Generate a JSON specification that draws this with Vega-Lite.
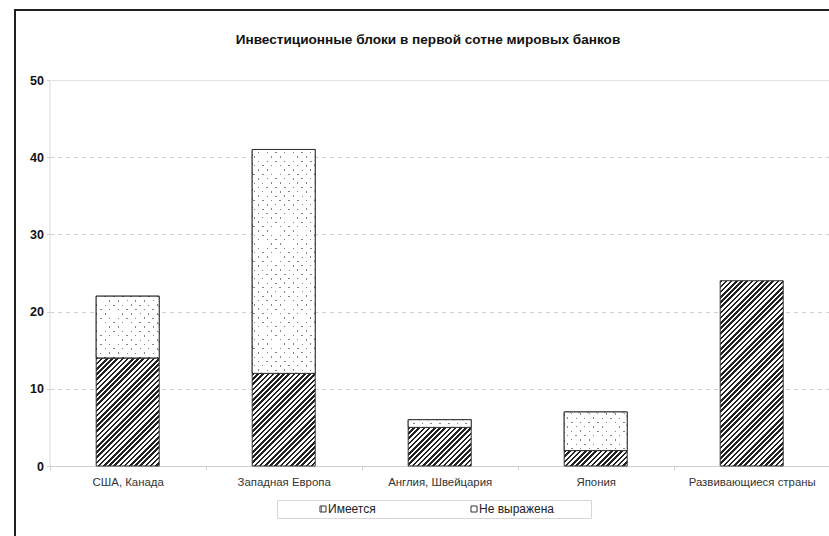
{
  "$schema": "https://vega.github.io/schema/vega-lite/v6.json",
  "width": 830,
  "height": 546,
  "autosize": {"type": "none"},
  "padding": {"left": 15, "top": 10, "right": -16, "bottom": -20},
  "background": "#ffffff",
  "title": {
    "text": "Инвестиционные блоки в первой сотне мировых банков",
    "anchor": "middle",
    "frame": "group",
    "offset": -48,
    "baseline": "alphabetic",
    "dx": -2,
    "font": "Liberation Sans",
    "fontSize": 13.6,
    "fontWeight": "bold",
    "color": "#111111"
  },
  "params": [
    {"name": "hatchStops", "value": [
      {"offset":0,"color":"#222"},{"offset":0.005,"color":"#222"},{"offset":0.005,"color":"#fff"},{"offset":0.01,"color":"#fff"},
      {"offset":0.01,"color":"#222"},{"offset":0.015,"color":"#222"},{"offset":0.015,"color":"#fff"},{"offset":0.02,"color":"#fff"},
      {"offset":0.02,"color":"#222"},{"offset":0.025,"color":"#222"},{"offset":0.025,"color":"#fff"},{"offset":0.03,"color":"#fff"},
      {"offset":0.03,"color":"#222"},{"offset":0.035,"color":"#222"},{"offset":0.035,"color":"#fff"},{"offset":0.04,"color":"#fff"},
      {"offset":0.04,"color":"#222"},{"offset":0.045,"color":"#222"},{"offset":0.045,"color":"#fff"},{"offset":0.05,"color":"#fff"},
      {"offset":0.05,"color":"#222"},{"offset":0.055,"color":"#222"},{"offset":0.055,"color":"#fff"},{"offset":0.06,"color":"#fff"},
      {"offset":0.06,"color":"#222"},{"offset":0.065,"color":"#222"},{"offset":0.065,"color":"#fff"},{"offset":0.07,"color":"#fff"},
      {"offset":0.07,"color":"#222"},{"offset":0.075,"color":"#222"},{"offset":0.075,"color":"#fff"},{"offset":0.08,"color":"#fff"},
      {"offset":0.08,"color":"#222"},{"offset":0.085,"color":"#222"},{"offset":0.085,"color":"#fff"},{"offset":0.09,"color":"#fff"},
      {"offset":0.09,"color":"#222"},{"offset":0.095,"color":"#222"},{"offset":0.095,"color":"#fff"},{"offset":0.1,"color":"#fff"},
      {"offset":0.1,"color":"#222"},{"offset":0.105,"color":"#222"},{"offset":0.105,"color":"#fff"},{"offset":0.11,"color":"#fff"},
      {"offset":0.11,"color":"#222"},{"offset":0.115,"color":"#222"},{"offset":0.115,"color":"#fff"},{"offset":0.12,"color":"#fff"},
      {"offset":0.12,"color":"#222"},{"offset":0.125,"color":"#222"},{"offset":0.125,"color":"#fff"},{"offset":0.13,"color":"#fff"},
      {"offset":0.13,"color":"#222"},{"offset":0.135,"color":"#222"},{"offset":0.135,"color":"#fff"},{"offset":0.14,"color":"#fff"},
      {"offset":0.14,"color":"#222"},{"offset":0.145,"color":"#222"},{"offset":0.145,"color":"#fff"},{"offset":0.15,"color":"#fff"},
      {"offset":0.15,"color":"#222"},{"offset":0.155,"color":"#222"},{"offset":0.155,"color":"#fff"},{"offset":0.16,"color":"#fff"},
      {"offset":0.16,"color":"#222"},{"offset":0.165,"color":"#222"},{"offset":0.165,"color":"#fff"},{"offset":0.17,"color":"#fff"},
      {"offset":0.17,"color":"#222"},{"offset":0.175,"color":"#222"},{"offset":0.175,"color":"#fff"},{"offset":0.18,"color":"#fff"},
      {"offset":0.18,"color":"#222"},{"offset":0.185,"color":"#222"},{"offset":0.185,"color":"#fff"},{"offset":0.19,"color":"#fff"},
      {"offset":0.19,"color":"#222"},{"offset":0.195,"color":"#222"},{"offset":0.195,"color":"#fff"},{"offset":0.2,"color":"#fff"},
      {"offset":0.2,"color":"#222"},{"offset":0.205,"color":"#222"},{"offset":0.205,"color":"#fff"},{"offset":0.21,"color":"#fff"},
      {"offset":0.21,"color":"#222"},{"offset":0.215,"color":"#222"},{"offset":0.215,"color":"#fff"},{"offset":0.22,"color":"#fff"},
      {"offset":0.22,"color":"#222"},{"offset":0.225,"color":"#222"},{"offset":0.225,"color":"#fff"},{"offset":0.23,"color":"#fff"},
      {"offset":0.23,"color":"#222"},{"offset":0.235,"color":"#222"},{"offset":0.235,"color":"#fff"},{"offset":0.24,"color":"#fff"},
      {"offset":0.24,"color":"#222"},{"offset":0.245,"color":"#222"},{"offset":0.245,"color":"#fff"},{"offset":0.25,"color":"#fff"},
      {"offset":0.25,"color":"#222"},{"offset":0.255,"color":"#222"},{"offset":0.255,"color":"#fff"},{"offset":0.26,"color":"#fff"},
      {"offset":0.26,"color":"#222"},{"offset":0.265,"color":"#222"},{"offset":0.265,"color":"#fff"},{"offset":0.27,"color":"#fff"},
      {"offset":0.27,"color":"#222"},{"offset":0.275,"color":"#222"},{"offset":0.275,"color":"#fff"},{"offset":0.28,"color":"#fff"},
      {"offset":0.28,"color":"#222"},{"offset":0.285,"color":"#222"},{"offset":0.285,"color":"#fff"},{"offset":0.29,"color":"#fff"},
      {"offset":0.29,"color":"#222"},{"offset":0.295,"color":"#222"},{"offset":0.295,"color":"#fff"},{"offset":0.3,"color":"#fff"},
      {"offset":0.3,"color":"#222"},{"offset":0.305,"color":"#222"},{"offset":0.305,"color":"#fff"},{"offset":0.31,"color":"#fff"},
      {"offset":0.31,"color":"#222"},{"offset":0.315,"color":"#222"},{"offset":0.315,"color":"#fff"},{"offset":0.32,"color":"#fff"},
      {"offset":0.32,"color":"#222"},{"offset":0.325,"color":"#222"},{"offset":0.325,"color":"#fff"},{"offset":0.33,"color":"#fff"},
      {"offset":0.33,"color":"#222"},{"offset":0.335,"color":"#222"},{"offset":0.335,"color":"#fff"},{"offset":0.34,"color":"#fff"},
      {"offset":0.34,"color":"#222"},{"offset":0.345,"color":"#222"},{"offset":0.345,"color":"#fff"},{"offset":0.35,"color":"#fff"},
      {"offset":0.35,"color":"#222"},{"offset":0.355,"color":"#222"},{"offset":0.355,"color":"#fff"},{"offset":0.36,"color":"#fff"},
      {"offset":0.36,"color":"#222"},{"offset":0.365,"color":"#222"},{"offset":0.365,"color":"#fff"},{"offset":0.37,"color":"#fff"},
      {"offset":0.37,"color":"#222"},{"offset":0.375,"color":"#222"},{"offset":0.375,"color":"#fff"},{"offset":0.38,"color":"#fff"},
      {"offset":0.38,"color":"#222"},{"offset":0.385,"color":"#222"},{"offset":0.385,"color":"#fff"},{"offset":0.39,"color":"#fff"},
      {"offset":0.39,"color":"#222"},{"offset":0.395,"color":"#222"},{"offset":0.395,"color":"#fff"},{"offset":0.4,"color":"#fff"},
      {"offset":0.4,"color":"#222"},{"offset":0.405,"color":"#222"},{"offset":0.405,"color":"#fff"},{"offset":0.41,"color":"#fff"},
      {"offset":0.41,"color":"#222"},{"offset":0.415,"color":"#222"},{"offset":0.415,"color":"#fff"},{"offset":0.42,"color":"#fff"},
      {"offset":0.42,"color":"#222"},{"offset":0.425,"color":"#222"},{"offset":0.425,"color":"#fff"},{"offset":0.43,"color":"#fff"},
      {"offset":0.43,"color":"#222"},{"offset":0.435,"color":"#222"},{"offset":0.435,"color":"#fff"},{"offset":0.44,"color":"#fff"},
      {"offset":0.44,"color":"#222"},{"offset":0.445,"color":"#222"},{"offset":0.445,"color":"#fff"},{"offset":0.45,"color":"#fff"},
      {"offset":0.45,"color":"#222"},{"offset":0.455,"color":"#222"},{"offset":0.455,"color":"#fff"},{"offset":0.46,"color":"#fff"},
      {"offset":0.46,"color":"#222"},{"offset":0.465,"color":"#222"},{"offset":0.465,"color":"#fff"},{"offset":0.47,"color":"#fff"},
      {"offset":0.47,"color":"#222"},{"offset":0.475,"color":"#222"},{"offset":0.475,"color":"#fff"},{"offset":0.48,"color":"#fff"},
      {"offset":0.48,"color":"#222"},{"offset":0.485,"color":"#222"},{"offset":0.485,"color":"#fff"},{"offset":0.49,"color":"#fff"}
    ]},
    {"name": "dotStops", "value": [
      {"offset":0,"color":"#858585"},{"offset":0.002,"color":"#858585"},{"offset":0.002,"color":"#fff"},{"offset":0.01,"color":"#fff"},
      {"offset":0.01,"color":"#858585"},{"offset":0.012,"color":"#858585"},{"offset":0.012,"color":"#fff"},{"offset":0.02,"color":"#fff"},
      {"offset":0.02,"color":"#858585"},{"offset":0.022,"color":"#858585"},{"offset":0.022,"color":"#fff"},{"offset":0.03,"color":"#fff"},
      {"offset":0.03,"color":"#858585"},{"offset":0.032,"color":"#858585"},{"offset":0.032,"color":"#fff"},{"offset":0.04,"color":"#fff"},
      {"offset":0.04,"color":"#858585"},{"offset":0.042,"color":"#858585"},{"offset":0.042,"color":"#fff"},{"offset":0.05,"color":"#fff"},
      {"offset":0.05,"color":"#858585"},{"offset":0.052,"color":"#858585"},{"offset":0.052,"color":"#fff"},{"offset":0.06,"color":"#fff"},
      {"offset":0.06,"color":"#858585"},{"offset":0.062,"color":"#858585"},{"offset":0.062,"color":"#fff"},{"offset":0.07,"color":"#fff"},
      {"offset":0.07,"color":"#858585"},{"offset":0.072,"color":"#858585"},{"offset":0.072,"color":"#fff"},{"offset":0.08,"color":"#fff"},
      {"offset":0.08,"color":"#858585"},{"offset":0.082,"color":"#858585"},{"offset":0.082,"color":"#fff"},{"offset":0.09,"color":"#fff"},
      {"offset":0.09,"color":"#858585"},{"offset":0.092,"color":"#858585"},{"offset":0.092,"color":"#fff"},{"offset":0.1,"color":"#fff"},
      {"offset":0.1,"color":"#858585"},{"offset":0.102,"color":"#858585"},{"offset":0.102,"color":"#fff"},{"offset":0.11,"color":"#fff"},
      {"offset":0.11,"color":"#858585"},{"offset":0.112,"color":"#858585"},{"offset":0.112,"color":"#fff"},{"offset":0.12,"color":"#fff"},
      {"offset":0.12,"color":"#858585"},{"offset":0.122,"color":"#858585"},{"offset":0.122,"color":"#fff"},{"offset":0.13,"color":"#fff"},
      {"offset":0.13,"color":"#858585"},{"offset":0.132,"color":"#858585"},{"offset":0.132,"color":"#fff"},{"offset":0.14,"color":"#fff"},
      {"offset":0.14,"color":"#858585"},{"offset":0.142,"color":"#858585"},{"offset":0.142,"color":"#fff"},{"offset":0.15,"color":"#fff"},
      {"offset":0.15,"color":"#858585"},{"offset":0.152,"color":"#858585"},{"offset":0.152,"color":"#fff"},{"offset":0.16,"color":"#fff"},
      {"offset":0.16,"color":"#858585"},{"offset":0.162,"color":"#858585"},{"offset":0.162,"color":"#fff"},{"offset":0.17,"color":"#fff"},
      {"offset":0.17,"color":"#858585"},{"offset":0.172,"color":"#858585"},{"offset":0.172,"color":"#fff"},{"offset":0.18,"color":"#fff"},
      {"offset":0.18,"color":"#858585"},{"offset":0.182,"color":"#858585"},{"offset":0.182,"color":"#fff"},{"offset":0.19,"color":"#fff"},
      {"offset":0.19,"color":"#858585"},{"offset":0.192,"color":"#858585"},{"offset":0.192,"color":"#fff"},{"offset":0.2,"color":"#fff"},
      {"offset":0.2,"color":"#858585"},{"offset":0.202,"color":"#858585"},{"offset":0.202,"color":"#fff"},{"offset":0.21,"color":"#fff"},
      {"offset":0.21,"color":"#858585"},{"offset":0.212,"color":"#858585"},{"offset":0.212,"color":"#fff"},{"offset":0.22,"color":"#fff"},
      {"offset":0.22,"color":"#858585"},{"offset":0.222,"color":"#858585"},{"offset":0.222,"color":"#fff"},{"offset":0.23,"color":"#fff"},
      {"offset":0.23,"color":"#858585"},{"offset":0.232,"color":"#858585"},{"offset":0.232,"color":"#fff"},{"offset":0.24,"color":"#fff"},
      {"offset":0.24,"color":"#858585"},{"offset":0.242,"color":"#858585"},{"offset":0.242,"color":"#fff"},{"offset":0.25,"color":"#fff"},
      {"offset":0.25,"color":"#858585"},{"offset":0.252,"color":"#858585"},{"offset":0.252,"color":"#fff"},{"offset":0.26,"color":"#fff"},
      {"offset":0.26,"color":"#858585"},{"offset":0.262,"color":"#858585"},{"offset":0.262,"color":"#fff"},{"offset":0.27,"color":"#fff"},
      {"offset":0.27,"color":"#858585"},{"offset":0.272,"color":"#858585"},{"offset":0.272,"color":"#fff"},{"offset":0.28,"color":"#fff"},
      {"offset":0.28,"color":"#858585"},{"offset":0.282,"color":"#858585"},{"offset":0.282,"color":"#fff"},{"offset":0.29,"color":"#fff"},
      {"offset":0.29,"color":"#858585"},{"offset":0.292,"color":"#858585"},{"offset":0.292,"color":"#fff"},{"offset":0.3,"color":"#fff"},
      {"offset":0.3,"color":"#858585"},{"offset":0.302,"color":"#858585"},{"offset":0.302,"color":"#fff"},{"offset":0.31,"color":"#fff"},
      {"offset":0.31,"color":"#858585"},{"offset":0.312,"color":"#858585"},{"offset":0.312,"color":"#fff"},{"offset":0.32,"color":"#fff"},
      {"offset":0.32,"color":"#858585"},{"offset":0.322,"color":"#858585"},{"offset":0.322,"color":"#fff"},{"offset":0.33,"color":"#fff"},
      {"offset":0.33,"color":"#858585"},{"offset":0.332,"color":"#858585"},{"offset":0.332,"color":"#fff"},{"offset":0.34,"color":"#fff"}
    ]},
    {"name": "maskStops", "value": [
      {"offset":0,"color":"#fff0"},{"offset":0.002,"color":"#fff0"},{"offset":0.002,"color":"#fff"},{"offset":0.01,"color":"#fff"},
      {"offset":0.01,"color":"#fff0"},{"offset":0.012,"color":"#fff0"},{"offset":0.012,"color":"#fff"},{"offset":0.02,"color":"#fff"},
      {"offset":0.02,"color":"#fff0"},{"offset":0.022,"color":"#fff0"},{"offset":0.022,"color":"#fff"},{"offset":0.03,"color":"#fff"},
      {"offset":0.03,"color":"#fff0"},{"offset":0.032,"color":"#fff0"},{"offset":0.032,"color":"#fff"},{"offset":0.04,"color":"#fff"},
      {"offset":0.04,"color":"#fff0"},{"offset":0.042,"color":"#fff0"},{"offset":0.042,"color":"#fff"},{"offset":0.05,"color":"#fff"},
      {"offset":0.05,"color":"#fff0"},{"offset":0.052,"color":"#fff0"},{"offset":0.052,"color":"#fff"},{"offset":0.06,"color":"#fff"},
      {"offset":0.06,"color":"#fff0"},{"offset":0.062,"color":"#fff0"},{"offset":0.062,"color":"#fff"},{"offset":0.07,"color":"#fff"},
      {"offset":0.07,"color":"#fff0"},{"offset":0.072,"color":"#fff0"},{"offset":0.072,"color":"#fff"},{"offset":0.08,"color":"#fff"},
      {"offset":0.08,"color":"#fff0"},{"offset":0.082,"color":"#fff0"},{"offset":0.082,"color":"#fff"},{"offset":0.09,"color":"#fff"},
      {"offset":0.09,"color":"#fff0"},{"offset":0.092,"color":"#fff0"},{"offset":0.092,"color":"#fff"},{"offset":0.1,"color":"#fff"},
      {"offset":0.1,"color":"#fff0"},{"offset":0.102,"color":"#fff0"},{"offset":0.102,"color":"#fff"},{"offset":0.11,"color":"#fff"},
      {"offset":0.11,"color":"#fff0"},{"offset":0.112,"color":"#fff0"},{"offset":0.112,"color":"#fff"},{"offset":0.12,"color":"#fff"},
      {"offset":0.12,"color":"#fff0"},{"offset":0.122,"color":"#fff0"},{"offset":0.122,"color":"#fff"},{"offset":0.13,"color":"#fff"},
      {"offset":0.13,"color":"#fff0"},{"offset":0.132,"color":"#fff0"},{"offset":0.132,"color":"#fff"},{"offset":0.14,"color":"#fff"},
      {"offset":0.14,"color":"#fff0"},{"offset":0.142,"color":"#fff0"},{"offset":0.142,"color":"#fff"},{"offset":0.15,"color":"#fff"},
      {"offset":0.15,"color":"#fff0"},{"offset":0.152,"color":"#fff0"},{"offset":0.152,"color":"#fff"},{"offset":0.16,"color":"#fff"},
      {"offset":0.16,"color":"#fff0"},{"offset":0.162,"color":"#fff0"},{"offset":0.162,"color":"#fff"},{"offset":0.17,"color":"#fff"},
      {"offset":0.17,"color":"#fff0"},{"offset":0.172,"color":"#fff0"},{"offset":0.172,"color":"#fff"},{"offset":0.18,"color":"#fff"},
      {"offset":0.18,"color":"#fff0"},{"offset":0.182,"color":"#fff0"},{"offset":0.182,"color":"#fff"},{"offset":0.19,"color":"#fff"},
      {"offset":0.19,"color":"#fff0"},{"offset":0.192,"color":"#fff0"},{"offset":0.192,"color":"#fff"},{"offset":0.2,"color":"#fff"},
      {"offset":0.2,"color":"#fff0"},{"offset":0.202,"color":"#fff0"},{"offset":0.202,"color":"#fff"},{"offset":0.21,"color":"#fff"},
      {"offset":0.21,"color":"#fff0"},{"offset":0.212,"color":"#fff0"},{"offset":0.212,"color":"#fff"},{"offset":0.22,"color":"#fff"},
      {"offset":0.22,"color":"#fff0"},{"offset":0.222,"color":"#fff0"},{"offset":0.222,"color":"#fff"},{"offset":0.23,"color":"#fff"},
      {"offset":0.23,"color":"#fff0"},{"offset":0.232,"color":"#fff0"},{"offset":0.232,"color":"#fff"},{"offset":0.24,"color":"#fff"},
      {"offset":0.24,"color":"#fff0"},{"offset":0.242,"color":"#fff0"},{"offset":0.242,"color":"#fff"},{"offset":0.25,"color":"#fff"},
      {"offset":0.25,"color":"#fff0"},{"offset":0.252,"color":"#fff0"},{"offset":0.252,"color":"#fff"},{"offset":0.26,"color":"#fff"},
      {"offset":0.26,"color":"#fff0"},{"offset":0.262,"color":"#fff0"},{"offset":0.262,"color":"#fff"},{"offset":0.27,"color":"#fff"},
      {"offset":0.27,"color":"#fff0"},{"offset":0.272,"color":"#fff0"},{"offset":0.272,"color":"#fff"},{"offset":0.28,"color":"#fff"},
      {"offset":0.28,"color":"#fff0"},{"offset":0.282,"color":"#fff0"},{"offset":0.282,"color":"#fff"},{"offset":0.29,"color":"#fff"},
      {"offset":0.29,"color":"#fff0"},{"offset":0.292,"color":"#fff0"},{"offset":0.292,"color":"#fff"},{"offset":0.3,"color":"#fff"},
      {"offset":0.3,"color":"#fff0"},{"offset":0.302,"color":"#fff0"},{"offset":0.302,"color":"#fff"},{"offset":0.31,"color":"#fff"},
      {"offset":0.31,"color":"#fff0"},{"offset":0.312,"color":"#fff0"},{"offset":0.312,"color":"#fff"},{"offset":0.32,"color":"#fff"},
      {"offset":0.32,"color":"#fff0"},{"offset":0.322,"color":"#fff0"},{"offset":0.322,"color":"#fff"},{"offset":0.33,"color":"#fff"},
      {"offset":0.33,"color":"#fff0"},{"offset":0.332,"color":"#fff0"},{"offset":0.332,"color":"#fff"},{"offset":0.34,"color":"#fff"}
    ]}
  ],
  "data": {
    "values": [
      {"region": "США, Канада", "type": "Имеется", "n": 14},
      {"region": "США, Канада", "type": "Не выражена", "n": 8},
      {"region": "Западная Европа", "type": "Имеется", "n": 12},
      {"region": "Западная Европа", "type": "Не выражена", "n": 29},
      {"region": "Англия, Швейцария", "type": "Имеется", "n": 5},
      {"region": "Англия, Швейцария", "type": "Не выражена", "n": 1},
      {"region": "Япония", "type": "Имеется", "n": 2},
      {"region": "Япония", "type": "Не выражена", "n": 5},
      {"region": "Развивающиеся страны", "type": "Имеется", "n": 24}
    ]
  },
  "transform": [
    {"stack": "n", "groupby": ["region"], "sort": [{"field": "type", "order": "ascending"}], "as": ["y0", "y1"], "offset": "zero"}
  ],
  "encoding": {
    "x": {
      "field": "region",
      "type": "nominal",
      "sort": ["США, Канада", "Западная Европа", "Англия, Швейцария", "Япония", "Развивающиеся страны"],
      "scale": {"range": [34.7, 814.7], "paddingInner": 0, "paddingOuter": 0},
      "axis": {
        "title": null,
        "offset": -90,
        "domain": true,
        "domainColor": "#d0d0d0",
        "domainWidth": 1,
        "ticks": true,
        "tickBand": "extent",
        "tickSize": 4,
        "tickColor": "#d0d0d0",
        "grid": false,
        "labelAngle": 0,
        "labelFont": "Liberation Sans",
        "labelFontSize": 11.4,
        "labelColor": "#333333",
        "labelPadding": 6
      }
    },
    "y": {
      "field": "y0",
      "type": "quantitative",
      "scale": {"domain": [0, 50], "range": [456, 70], "nice": false, "zero": true},
      "axis": {
        "title": null,
        "values": [0, 10, 20, 30, 40, 50],
        "offset": -34.5,
        "domain": true,
        "domainColor": "#dadada",
        "ticks": true,
        "tickSize": 3,
        "tickColor": "#d0d0d0",
        "grid": true,
        "gridColor": {"condition": {"test": "datum.value === 50", "value": "#e4e4e4"}, "value": "#cfcfcf"},
        "gridDash": {"condition": {"test": "datum.value === 50 || datum.value === 0", "value": []}, "value": [4, 4]},
        "labelFont": "Liberation Sans",
        "labelFontWeight": "bold",
        "labelFontSize": 12.5,
        "labelColor": "#111111",
        "labelPadding": 3
      }
    },
    "y2": {"field": "y1"}
  },
  "layer": [
    {
      "mark": {"type": "bar", "width": {"band": 0.404}, "strokeWidth": 1},
      "encoding": {
        "fill": {"value": {"expr": "{gradient:'linear',x1:0,y1:0,x2:(datum.type==='Имеется'?520:870)*bandwidth('x')*0.404/(pow(bandwidth('x')*0.404,2)+pow(scale('y',datum.y0)-scale('y',datum.y1),2)),y2:(datum.type==='Имеется'?520:870)*(scale('y',datum.y0)-scale('y',datum.y1))/(pow(bandwidth('x')*0.404,2)+pow(scale('y',datum.y0)-scale('y',datum.y1),2)),stops:datum.type==='Имеется'?hatchStops:dotStops}"}},
        "stroke": {
          "field": "type",
          "type": "nominal",
          "scale": {"range": ["#333333", "#333333"]},
          "legend": {
            "title": null,
            "orient": "none",
            "legendX": 262,
            "legendY": 490,
            "direction": "horizontal",
            "padding": 3,
            "strokeColor": "#d6d6d6",
            "fillColor": "#ffffff",
            "symbolType": "square",
            "symbolSize": 36,
            "symbolStrokeWidth": 1,
            "symbolOffset": 37,
            "columnPadding": 55,
            "labelOffset": -1,
            "labelFont": "Liberation Sans",
            "labelFontSize": 12,
            "labelColor": "#222222",
            "labelExpr": "datum.label === 'Не выражена' ? datum.label + '\u00a0\u00a0\u00a0\u00a0\u00a0\u00a0\u00a0\u00a0\u00a0\u00a0\u200d' : datum.label",
            "encode": {
              "symbols": {
                "fill": {"value": {"expr": "datum.value === 'Имеется' ? {gradient:'linear',x1:0,y1:0,x2:43.3,y2:43.3,stops:hatchStops} : '#ffffff'"}},
                "stroke": {"value": "#333333"},
                "opacity": {"value": 1}
              }
            }
          }
        }
      }
    },
    {
      "transform": [{"filter": "datum.type === 'Не выражена'"}],
      "mark": {"type": "bar", "width": {"band": 0.404}, "stroke": "#333333", "strokeWidth": 1},
      "encoding": {
        "fill": {"value": {"expr": "{gradient:'linear',x1:0,y1:1,x2:870*bandwidth('x')*0.404/(pow(bandwidth('x')*0.404,2)+pow(scale('y',datum.y0)-scale('y',datum.y1),2)),y2:1-870*(scale('y',datum.y0)-scale('y',datum.y1))/(pow(bandwidth('x')*0.404,2)+pow(scale('y',datum.y0)-scale('y',datum.y1),2)),stops:maskStops}"}}
      }
    }
  ],
  "config": {
    "font": "Liberation Sans",
    "view": {"stroke": "#1f1f1f", "strokeWidth": 2}
  }
}
